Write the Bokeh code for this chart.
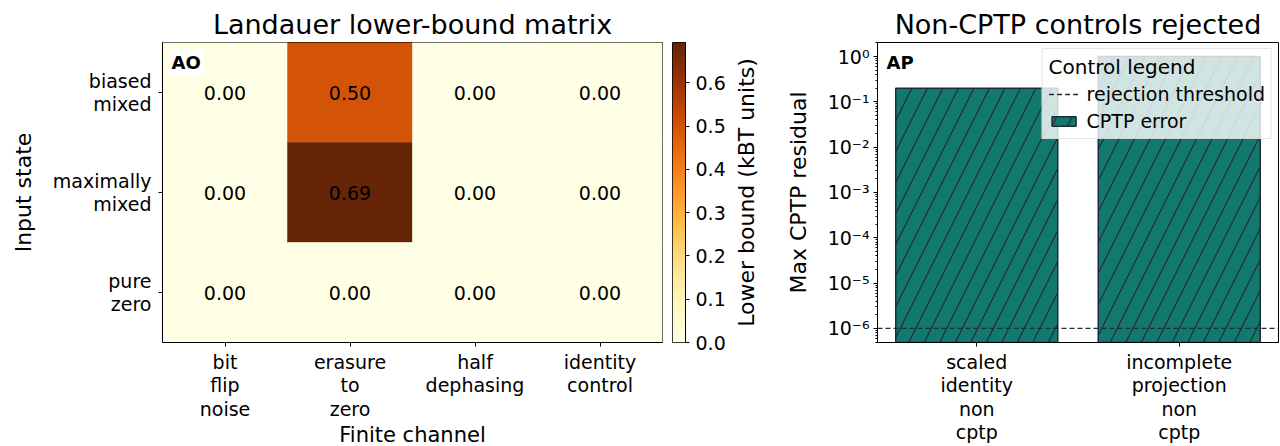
import numpy as np
from bokeh.plotting import figure
from bokeh.models import (Range1d, FixedTicker, LinearColorMapper, Label, Legend,
                          LegendItem, CustomJSTickFormatter, PrintfTickFormatter,
                          ColumnDataSource)
from bokeh.transform import transform
from bokeh.layouts import row
from bokeh.palettes import YlOrBr9
from bokeh.core.properties import value
from bokeh.embed import file_html
from bokeh.resources import INLINE

# ---------------- data ----------------
channels = ["bit\nflip\nnoise", "erasure\nto\nzero", "half\ndephasing", "identity\ncontrol"]
states = ["biased\nmixed", "maximally\nmixed", "pure\nzero"]
# lower bound per channel (rows: biased mixed, maximally mixed, pure zero)
bound_bit_flip = [0.0, 0.0, 0.0]
bound_erasure = [0.500, 0.693, 0.0]
bound_dephasing = [0.0, 0.0, 0.0]
bound_identity = [0.0, 0.0, 0.0]
colorbar_ticks = [0.0, 0.1, 0.2, 0.3, 0.4, 0.5, 0.6]
colorbar_label = "Lower bound (kBT units)"

controls = ["scaled\nidentity\nnon\ncptp", "incomplete\nprojection\nnon\ncptp"]
cptp_residual = [0.2, 1.0]
rejection_threshold = 1e-6
log_ticks = [1e-6, 1e-5, 1e-4, 1e-3, 1e-2, 1e-1, 1e0]
log_minor_ticks = [m * 10.0 ** e for e in range(-7, 1) for m in range(2, 10)]

FONT = "DejaVu Sans"
TEAL = "#14796d"
NAVY = "#1c2a3c"

# ---------------- palette ----------------
def interp_palette(colors, n):
    rgb = np.array([[int(c[i:i + 2], 16) for i in (1, 3, 5)] for c in colors], dtype=float)
    pos = np.linspace(0, 1, len(colors))
    t = np.linspace(0, 1, n)
    out = []
    for tt in t:
        r, g, b = (np.interp(tt, pos, rgb[:, k]) for k in range(3))
        out.append("#%02x%02x%02x" % (int(round(r)), int(round(g)), int(round(b))))
    return out

palette = interp_palette(list(reversed(YlOrBr9)), 256)
columns = [bound_bit_flip, bound_erasure, bound_dephasing, bound_identity]
vmax = max(max(c) for c in columns)
mapper = LinearColorMapper(palette=palette, low=0.0, high=vmax)

xs, ys, vals, txt = [], [], [], []
for ci, col in enumerate(columns):
    for ri, v in enumerate(col):
        xs.append(ci)
        ys.append(ri)
        vals.append(v)
        txt.append(f"{v:.2f}")
src = ColumnDataSource(dict(x=xs, y=ys, v=vals, t=txt))


def style_axis(ax, minor=False):
    ax.major_label_text_font = FONT
    ax.major_label_text_font_size = "19px"
    ax.major_label_text_color = "black"
    ax.major_label_text_line_height = 1.07
    ax.axis_label_text_font = FONT
    ax.axis_label_text_font_size = "22px"
    ax.axis_label_text_font_style = "normal"
    ax.axis_label_text_color = "black"
    ax.axis_line_color = "black"
    ax.major_tick_line_color = "black"
    ax.major_tick_out = 4
    ax.major_tick_in = 0
    ax.major_label_standoff = 4
    if minor:
        ax.minor_tick_line_color = "black"
        ax.minor_tick_out = 2
        ax.minor_tick_in = 0
    else:
        ax.minor_tick_line_color = None


def style_title(p, size="27px"):
    p.title.align = "center"
    p.title.text_font = FONT
    p.title.text_font_size = size
    p.title.text_font_style = "normal"
    p.title.text_color = "black"
    p.title.standoff = 6


def panel_tag(text, x, y):
    return Label(x=x, y=y, x_offset=7, y_offset=-7, text=text,
                 text_font=FONT, text_font_size="18px", text_font_style="bold",
                 text_color="black", text_baseline="top", text_align="left",
                 background_fill_color="white", padding=2)


# ---------------- heatmap ----------------
p1 = figure(frame_width=500, frame_height=300,
            x_range=Range1d(-0.5, 3.5), y_range=Range1d(2.5, -0.5),
            min_border_left=162, min_border_right=5, min_border_top=42, min_border_bottom=0,
            title="Landauer lower-bound matrix",
            output_backend="svg", toolbar_location=None)
style_title(p1)
p1.grid.visible = False
p1.outline_line_color = "black"
p1.rect(x="x", y="y", width=1, height=1, source=src,
        fill_color=transform("v", mapper), line_color=transform("v", mapper), line_width=0.5)
p1.text(x="x", y="y", text="t", source=src, text_align="center", text_baseline="middle",
        text_font=value(FONT), text_font_size="19px", text_color="black")
p1.xaxis.ticker = FixedTicker(ticks=list(range(len(channels))))
p1.xaxis.major_label_overrides = {i: s for i, s in enumerate(channels)}
p1.xaxis.axis_label = "Finite channel"
p1.yaxis.ticker = FixedTicker(ticks=list(range(len(states))))
p1.yaxis.major_label_overrides = {i: s for i, s in enumerate(states)}
p1.yaxis.axis_label = "Input state"
style_axis(p1.xaxis[0])
style_axis(p1.yaxis[0])
p1.yaxis.major_label_standoff = 7
p1.yaxis.axis_label_standoff = 14
p1.xaxis.axis_label_standoff = 0
p1.xaxis.axis_label_text_font_size = "21px"
p1.add_layout(panel_tag("AO", -0.5, -0.5))

# ---------------- colorbar ----------------
p2 = figure(frame_width=13, frame_height=300,
            x_range=Range1d(0, 1), y_range=Range1d(0, vmax), y_axis_location="right",
            min_border_left=5, min_border_right=44, min_border_top=42, min_border_bottom=20,
            output_backend="svg", toolbar_location=None)
p2.grid.visible = False
p2.xaxis.visible = False
p2.outline_line_color = "black"
grad = np.linspace(0, vmax, 256).reshape(-1, 1)
p2.image(image=[grad], x=0, y=0, dw=1, dh=vmax, color_mapper=mapper)
p2.yaxis.ticker = FixedTicker(ticks=colorbar_ticks)
p2.yaxis.formatter = PrintfTickFormatter(format="%.1f")
style_axis(p2.yaxis[0])
p2.yaxis.major_label_standoff = 6

# colorbar label: a narrow figure whose left-side title reads bottom-to-top
p_lab = figure(frame_width=1, frame_height=300, title=colorbar_label, title_location="left",
               min_border_left=30, min_border_right=0, min_border_top=42, min_border_bottom=20,
               output_backend="svg", toolbar_location=None)
style_title(p_lab, "22px")
p_lab.title.standoff = 4
p_lab.axis.visible = False
p_lab.grid.visible = False
p_lab.outline_line_color = None

# ---------------- bar chart ----------------
p3 = figure(frame_width=401, frame_height=300,
            x_range=Range1d(-0.49, 1.49), y_range=Range1d(4.9e-7, 2.04), y_axis_type="log",
            min_border_left=116, min_border_right=1, min_border_top=42, min_border_bottom=0,
            title="Non-CPTP controls rejected",
            output_backend="svg", toolbar_location=None)
style_title(p3)
p3.grid.visible = False
p3.outline_line_color = "black"
bar_src = ColumnDataSource(dict(x=list(range(len(controls))), top=cptp_residual))
bars = p3.vbar(x="x", top="top", bottom=1e-9, width=0.8, source=bar_src,
               fill_color=TEAL, line_color=NAVY, line_width=1.5,
               hatch_pattern="/", hatch_color=NAVY, hatch_weight=1.2, hatch_scale=31)
thr_x = [p3.x_range.start, p3.x_range.end]
thr_line = p3.line(x=thr_x, y=[rejection_threshold] * 2, line_color=NAVY,
                   line_dash="5 3", line_width=1.3)
p3.xaxis.ticker = FixedTicker(ticks=list(range(len(controls))))
p3.xaxis.major_label_overrides = {i: s for i, s in enumerate(controls)}
p3.yaxis.ticker = FixedTicker(ticks=log_ticks, minor_ticks=log_minor_ticks)
p3.yaxis.formatter = CustomJSTickFormatter(code="""
const sup = {"-": "\u207b", "0": "\u2070", "1": "\u00b9", "2": "\u00b2", "3": "\u00b3",
             "4": "\u2074", "5": "\u2075", "6": "\u2076", "7": "\u2077", "8": "\u2078", "9": "\u2079"};
const e = Math.round(Math.log10(tick));
return "10" + String(e).split("").map(c => sup[c]).join("");
""")
p3.yaxis.axis_label = "Max CPTP residual"
style_axis(p3.xaxis[0])
style_axis(p3.yaxis[0], minor=True)
p3.yaxis.axis_label_standoff = 14

legend = Legend(items=[LegendItem(label="rejection threshold", renderers=[thr_line]),
                       LegendItem(label="CPTP error", renderers=[bars])],
                location="top_right", title="Control legend")
legend.title_text_font = FONT
legend.title_text_font_size = "20px"
legend.title_text_font_style = "normal"
legend.title_text_color = "black"
legend.label_text_font = FONT
legend.label_text_font_size = "19px"
legend.label_text_color = "black"
legend.background_fill_color = "white"
legend.background_fill_alpha = 0.8
legend.border_line_color = "#cccccc"
legend.glyph_width = 30
legend.glyph_height = 12
legend.label_standoff = 8
legend.label_height = 18
legend.spacing = 5
legend.padding = 6
legend.margin = 6
legend.title_standoff = 4
p3.add_layout(legend)
p3.add_layout(panel_tag("AP", p3.x_range.start, p3.y_range.end))

layout = row(p1, p2, p_lab, p3)
open("out.html", "w").write(file_html(layout, INLINE))
